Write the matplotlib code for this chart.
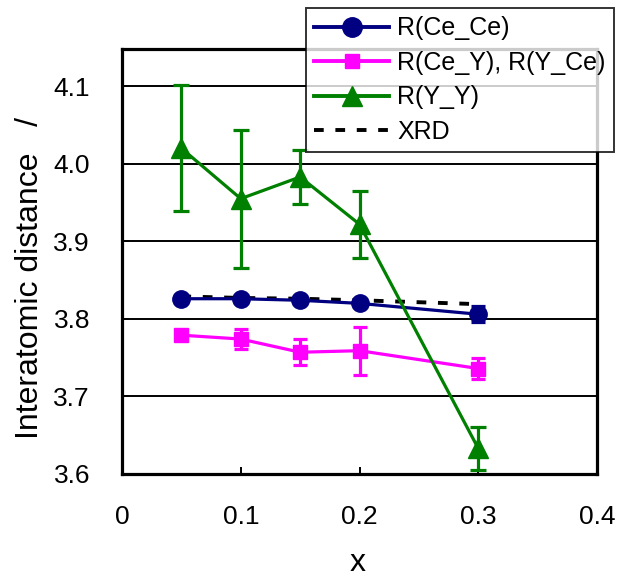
import matplotlib
matplotlib.use("Agg")
import matplotlib.pyplot as plt
from matplotlib.lines import Line2D

plt.rcParams['font.family'] = ['Liberation Sans', 'DejaVu Sans']

x = [0.05, 0.10, 0.15, 0.20, 0.30]
ce_ce = [3.826, 3.826, 3.824, 3.820, 3.806]
ce_ce_err = [0.003, 0.003, 0.003, 0.003, 0.010]
ce_y = [3.779, 3.774, 3.757, 3.759, 3.736]
ce_y_err = [0.005, 0.013, 0.017, 0.031, 0.013]
y_y = [4.020, 3.955, 3.983, 3.922, 3.633]
y_y_err = [0.081, 0.089, 0.035, 0.043, 0.028]
xrd = [3.829, 3.827, 3.826, 3.824, 3.819]

xticks = [0, 0.1, 0.2, 0.3, 0.4]
xticklabels = ["0", "0.1", "0.2", "0.3", "0.4"]
yticks = [3.6, 3.7, 3.8, 3.9, 4.0, 4.1]
yticklabels = ["3.6", "3.7", "3.8", "3.9", "4.0", "4.1"]

W, H = 618, 580
fig = plt.figure(figsize=(W / 100, H / 100), dpi=100)
ax = fig.add_axes([122 / W, 1 - 474 / H, 475 / W, (474 - 49) / H])

navy = "#000080"
mag = "#FF00FF"
grn = "#008000"
dash = (0, (2.5, 3.0))

for yv in yticks[1:]:
    ax.axhline(yv, color="black", lw=1.4, zorder=0)

ax.plot(x, xrd, color="black", ls=dash, lw=2.8, zorder=2)
ax.errorbar(x, ce_ce, yerr=ce_ce_err, color=navy, marker="o", ms=12.5, lw=2.3,
            capsize=5, capthick=2.3, elinewidth=2.3, zorder=3)
ax.errorbar(x, ce_y, yerr=ce_y_err, color=mag, marker="s", ms=9.5, lw=2.3,
            capsize=5, capthick=2.3, elinewidth=2.3, zorder=3)
ax.errorbar(x, y_y, yerr=y_y_err, color=grn, marker="^", ms=15, lw=2.3,
            capsize=5.5, capthick=2.3, elinewidth=2.3, zorder=4)

ax.set_xlim(0, 0.4)
ax.set_ylim(3.6, 4.148)
ax.set_xticks(xticks)
ax.set_xticklabels(xticklabels)
ax.set_yticks(yticks)
ax.set_yticklabels(yticklabels)
ax.tick_params(direction="in", length=5, width=1.4, labelsize=19)
ax.tick_params(axis="x", pad=22)
ax.tick_params(axis="y", pad=23)
for s in ["left", "bottom", "top", "right"]:
    ax.spines[s].set_linewidth(2.3)

ax.set_xlabel("x", fontsize=23)
ax.set_ylabel("Interatomic distance   /", fontsize=23)
ax.xaxis.set_label_coords((358 - 122) / 475, -(563 - 474) / (474 - 49))
ax.yaxis.set_label_coords(-(122 - 30) / 475, (474 - 278) / (474 - 49))
ax.xaxis.label.set_va("center")
ax.yaxis.label.set_va("center")

handles = [
    Line2D([], [], color=navy, marker="o", ms=14, lw=2.8),
    Line2D([], [], color=mag, marker="s", ms=9.5, lw=2.8),
    Line2D([], [], color=grn, marker="^", ms=14.5, lw=2.8),
    Line2D([], [], color="black", ls=dash, lw=2.8),
]
labels = ["R(Ce_Ce)", "R(Ce_Y), R(Y_Ce)", "R(Y_Y)", "XRD"]
leg = fig.legend(handles, labels, loc="upper left", bbox_to_anchor=(306 / W, 1 - 8 / H),
                 fontsize=18, frameon=True, fancybox=False, edgecolor="black",
                 borderpad=0.33, labelspacing=0.42, handlelength=3.0,
                 handletextpad=0.31, borderaxespad=0)
leg.get_frame().set_linewidth(1.4)
leg.set_zorder(10)

fig.savefig("out.png", dpi=100)
